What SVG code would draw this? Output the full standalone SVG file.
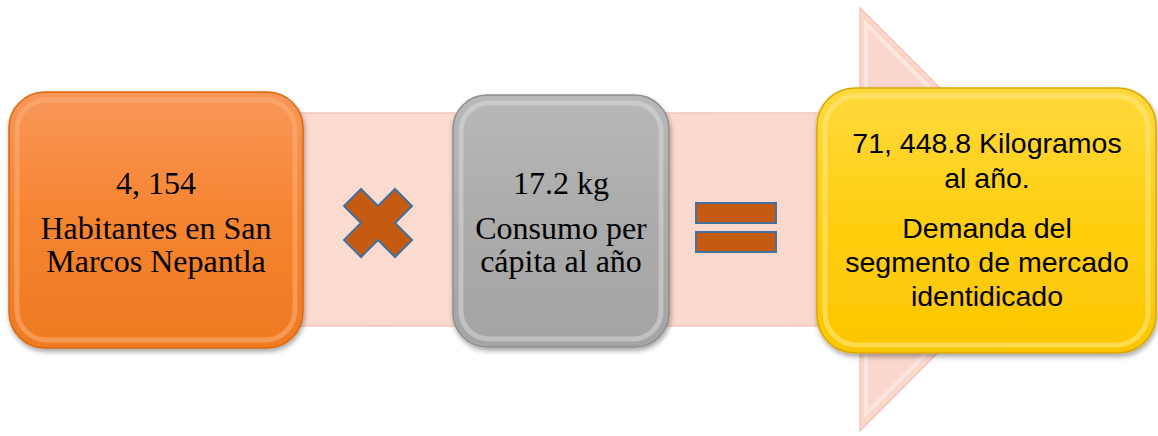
<svg xmlns="http://www.w3.org/2000/svg" width="1158" height="436" viewBox="0 0 1158 436">
<defs>
<style>
.serif{font-family:"Liberation Serif","Times New Roman",serif;font-size:32px;fill:#000;text-anchor:middle}
.sans{font-family:"Liberation Sans",Arial,sans-serif;font-size:28.5px;fill:#000;text-anchor:middle}
.op{fill:#C55A11;stroke:#41719C;stroke-width:2}
.hl{fill:none;stroke-width:5;stroke-opacity:0.55}
</style>
<linearGradient id="gOr" x1="0" y1="0" x2="0" y2="1">
<stop offset="0" stop-color="#F9975A"/><stop offset="0.5" stop-color="#F5842F"/><stop offset="1" stop-color="#EF7A22"/>
</linearGradient>
<linearGradient id="gGr" x1="0" y1="0" x2="0" y2="1">
<stop offset="0" stop-color="#B8B8B8"/><stop offset="0.5" stop-color="#ABABAB"/><stop offset="1" stop-color="#A4A4A4"/>
</linearGradient>
<linearGradient id="gYe" x1="0" y1="0" x2="0" y2="1">
<stop offset="0" stop-color="#FFD93D"/><stop offset="0.5" stop-color="#FFCF12"/><stop offset="1" stop-color="#FBC600"/>
</linearGradient>
<linearGradient id="gAr" x1="0" y1="0" x2="1" y2="0">
<stop offset="0" stop-color="#FCDDD3"/><stop offset="1" stop-color="#FAD6CB"/>
</linearGradient>
<filter id="sh" x="-10%" y="-10%" width="125%" height="125%">
<feDropShadow dx="1" dy="3" stdDeviation="2.5" flood-color="#000" flood-opacity="0.35"/>
</filter>
</defs>
<g id="connectors">
<polygon points="20,113 860,113 860,8 1071,219 860,431 860,326 20,326" fill="url(#gAr)" stroke="#F3C6BA" stroke-width="1.5"/>
<polygon points="866,24 1060,219 866,414" fill="none" stroke="#FFFFFF" stroke-opacity="0.35" stroke-width="4"/>
</g>
<g id="node-habitantes">
<rect x="9" y="92" width="294" height="256" rx="36" fill="url(#gOr)" stroke="#D9680F" stroke-width="1.5" filter="url(#sh)"/>
<rect x="17" y="100" width="278" height="240" rx="30" class="hl" stroke="#FBB07A"/>
<text class="serif" x="156" y="194">4, 154</text>
<text class="serif" x="156" y="239">Habitantes en San</text>
<text class="serif" x="156" y="272">Marcos Nepantla</text>
</g>
<g id="op-multiply">
<polygon class="op" points="361,189 378,206 395,189 412,206 395,223 412,240 395,257 378,240 361,257 344,240 361,223 344,206"/>
</g>
<g id="node-consumo">
<rect x="453" y="95" width="216" height="252" rx="34" fill="url(#gGr)" stroke="#8E8E8E" stroke-width="1.5" filter="url(#sh)"/>
<rect x="461" y="103" width="200" height="236" rx="28" class="hl" stroke="#D8D8D8"/>
<text class="serif" x="561" y="194">17.2 kg</text>
<text class="serif" x="561" y="239">Consumo per</text>
<text class="serif" x="561" y="272">cápita al año</text>
</g>
<g id="op-equals">
<rect class="op" x="696" y="203" width="80" height="20"/>
<rect class="op" x="696" y="232" width="80" height="20"/>
</g>
<g id="node-demanda">
<rect x="817" y="88" width="339" height="265" rx="38" fill="url(#gYe)" stroke="#D9A800" stroke-width="1.5" filter="url(#sh)"/>
<rect x="825" y="96" width="323" height="249" rx="32" class="hl" stroke="#FFE98A"/>
<text class="sans" x="987" y="153">71, 448.8 Kilogramos</text>
<text class="sans" x="987" y="188">al año.</text>
<text class="sans" x="987" y="238">Demanda del</text>
<text class="sans" x="987" y="272">segmento de mercado</text>
<text class="sans" x="987" y="306">identidicado</text>
</g>
</svg>
